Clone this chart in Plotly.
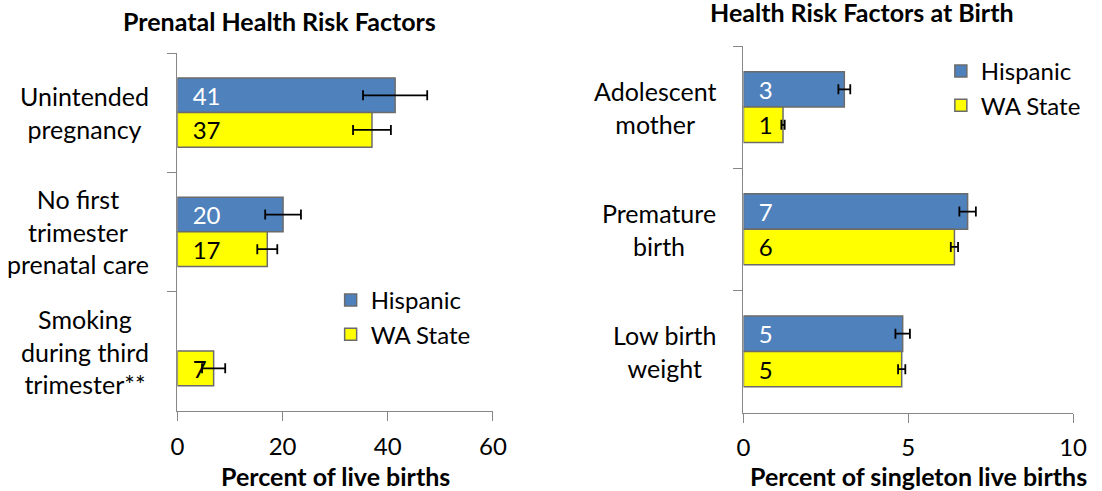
import plotly.graph_objects as go

W, H = 1102, 491
FONT = 'Lato'

# prenatal panel (left)
prenatal_cats = ['Unintended pregnancy', 'No first trimester prenatal care', 'Smoking during third trimester**']
prenatal_labels = ['Unintended<br>pregnancy', 'No first<br>trimester<br>prenatal care', 'Smoking<br>during third<br>trimester**']
prenatal_hisp = [41.4, 20.1, None]
prenatal_hisp_err = [6.1, 3.4, None]
prenatal_wa = [37.0, 17.1, 6.9]
prenatal_wa_err = [3.6, 1.9, 2.2]
prenatal_ticks = [0, 20, 40, 60]

# birth panel (right)
birth_cats = ['Adolescent mother', 'Premature birth', 'Low birth weight']
birth_labels = ['Adolescent<br>mother', 'Premature<br>birth', 'Low birth<br>weight']
birth_hisp = [3.06, 6.8, 4.83]
birth_hisp_err = [0.18, 0.25, 0.22]
birth_wa = [1.2, 6.4, 4.8]
birth_wa_err = [0.05, 0.11, 0.11]
birth_ticks = [0, 5, 10]

BLUE = '#4F81BD'
YELLOW = '#FFFF00'
AXIS_GREY = '#878787'

# the photographed page comes out slightly squeezed sideways; positions below are
# given in picture pixels and mapped back to paper fractions here
SX, OX = 0.979, 8.0


def px(x):
    return (x - OX) / SX / W


def py(y):
    return 1 - y / H


def make_bar(values, errors, cats, name, color, text_color, xa, ya, legend, cap):
    return go.Bar(
        y=cats, x=values, orientation='h', name=name,
        marker=dict(color=color, line=dict(color='#6b6b6b', width=1.5)),
        error_x=dict(type='data', array=errors, color='black', thickness=1.8, width=cap),
        texttemplate='\u00a0\u00a0%{x:.0f}', textposition='inside', insidetextanchor='start', textangle=0,
        textfont=dict(color=text_color, size=24, family=FONT), constraintext='none',
        xaxis=xa, yaxis=ya, legend=legend,
    )


fig = go.Figure()
fig.add_trace(make_bar(prenatal_hisp, prenatal_hisp_err, prenatal_cats, 'Hispanic', BLUE, 'white', 'x', 'y', 'legend', 5))
fig.add_trace(make_bar(prenatal_wa, prenatal_wa_err, prenatal_cats, 'WA State', YELLOW, 'black', 'x', 'y', 'legend', 5))
fig.add_trace(make_bar(birth_hisp, birth_hisp_err, birth_cats, 'Hispanic', BLUE, 'white', 'x2', 'y2', 'legend2', 5))
fig.add_trace(make_bar(birth_wa, birth_wa_err, birth_cats, 'WA State', YELLOW, 'black', 'x2', 'y2', 'legend2', 5))

xaxis_common = dict(showline=True, linecolor=AXIS_GREY, linewidth=1.3, ticks='outside', ticklen=9,
                    tickcolor=AXIS_GREY, tickwidth=1.3, showgrid=False, zeroline=False,
                    tickfont=dict(size=24, color='black'), ticklabelstandoff=5, fixedrange=True)
yaxis_common = dict(type='category', categoryorder='array', autorange='reversed', showline=True,
                    linecolor=AXIS_GREY, linewidth=1.3, ticks='outside', tickson='boundaries', ticklen=9,
                    tickcolor=AXIS_GREY, tickwidth=1.3, showticklabels=False, showgrid=False, fixedrange=True)

annotations = []
for cat, label in zip(prenatal_cats, prenatal_labels):
    annotations.append(dict(xref='paper', x=px(152), xanchor='right', yref='y', y=cat, text=label,
                            showarrow=False, align='center', font=dict(size=25)))
for cat, label in zip(birth_cats, birth_labels):
    annotations.append(dict(xref='paper', x=px(718), xanchor='right', yref='y2', y=cat, text=label,
                            showarrow=False, align='center', font=dict(size=25)))

# panel titles and axis titles
for text, x, y in [('<b>Prenatal Health Risk Factors</b>', 280, 21),
                   ('<b>Health Risk Factors at Birth</b>', 861, 12),
                   ('<b>Percent of live births</b>', 336, 476),
                   ('<b>Percent of singleton live births</b>', 918, 476)]:
    annotations.append(dict(xref='paper', yref='paper', x=px(x), y=py(y), xanchor='center', yanchor='middle',
                            text=text, showarrow=False, font=dict(size=25)))

fig.update_layout(
    width=W, height=H,
    margin=dict(l=0, r=0, t=0, b=0),
    paper_bgcolor='white', plot_bgcolor='white',
    font=dict(family=FONT, size=24, color='black'),
    barmode='group', bargap=0.42, bargroupgap=0,
    xaxis=dict(domain=[px(178), px(493)], range=[0, 60], tickvals=prenatal_ticks, anchor='y', **xaxis_common),
    yaxis=dict(domain=[py(410.7), py(53)], categoryarray=prenatal_cats, anchor='x', **yaxis_common),
    xaxis2=dict(domain=[px(743), px(1072)], range=[0, 10], tickvals=birth_ticks, anchor='y2', **xaxis_common),
    yaxis2=dict(domain=[py(412.5), py(46)], categoryarray=birth_cats, anchor='x2', **yaxis_common),
    legend=dict(x=px(331), y=py(278), xanchor='left', yanchor='top', bgcolor='rgba(0,0,0,0)',
                font=dict(size=24), tracegroupgap=0),
    legend2=dict(x=px(940), y=py(49), xanchor='left', yanchor='top', bgcolor='rgba(0,0,0,0)',
                 font=dict(size=24), tracegroupgap=0),
    showlegend=True,
    annotations=annotations,
)

# the page body has a default 8px margin; drop it (and any scrollbars) so the figure sits at the window corner
fig.write_html('out.html', config={'displayModeBar': False, 'responsive': False},
               post_script="document.body.style.margin='0px'; document.body.style.overflow='hidden';")
